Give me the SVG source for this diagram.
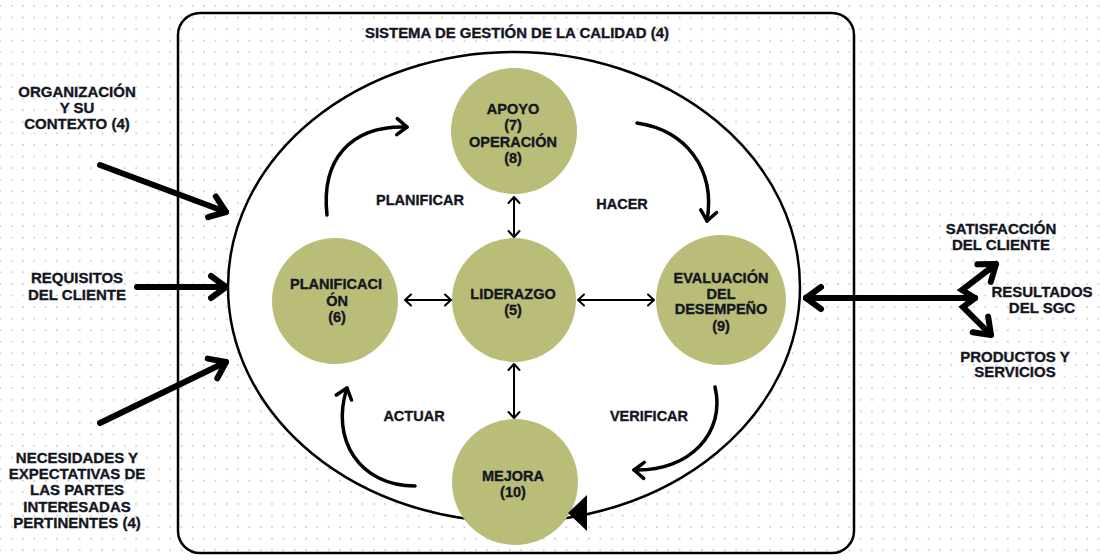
<svg xmlns="http://www.w3.org/2000/svg" width="1101" height="560" viewBox="0 0 1101 560">
<defs>
<pattern id="dots" patternUnits="userSpaceOnUse" x="6" y="0.2" width="11.32" height="11.58">
<circle cx="5.66" cy="5.79" r="0.9" fill="#c4c4c4"/>
</pattern>
<marker id="headThick" markerUnits="userSpaceOnUse" viewBox="-20 -15 25 30" refX="0" refY="0" markerWidth="25" markerHeight="30" orient="auto">
<path d="M-15,-11 L0,0 L-15,11" fill="none" stroke="#000" stroke-width="6" stroke-linecap="round" stroke-linejoin="round"/>
</marker>
<marker id="headMid" markerUnits="userSpaceOnUse" viewBox="-15 -12 20 24" refX="0" refY="0" markerWidth="20" markerHeight="24" orient="auto">
<path d="M-10,-8 L0,0 L-10,8" fill="none" stroke="#000" stroke-width="3.5" stroke-linecap="round" stroke-linejoin="round"/>
</marker>
<marker id="headThin" markerUnits="userSpaceOnUse" viewBox="-10 -8 13 16" refX="0" refY="0" markerWidth="13" markerHeight="16" orient="auto-start-reverse">
<path d="M-6,-5.5 L0,0 L-6,5.5" fill="none" stroke="#000" stroke-width="2" stroke-linecap="round" stroke-linejoin="round"/>
</marker>
</defs>
<style>
.t{font-family:"Liberation Sans",Arial,sans-serif;font-weight:bold;fill:#14161f;stroke:#14161f;stroke-width:0.35px;text-anchor:middle}
.s{font-size:15px}
.c{font-size:14.5px}
.node{fill:#b9bd78}
.thick{fill:none;stroke:#000;stroke-width:6;stroke-linecap:round}
.mid{fill:none;stroke:#000;stroke-width:3.5;stroke-linecap:round}
.thin{fill:none;stroke:#000;stroke-width:2}
</style>
<rect width="1101" height="560" fill="#fff"/>
<rect width="1101" height="560" fill="url(#dots)"/>

<g id="sgc-frame">
<rect x="178" y="13" width="676" height="540" rx="22" fill="none" stroke="#000" stroke-width="2.5"/>
<text class="t" x="517" y="38" font-size="14" textLength="304" lengthAdjust="spacingAndGlyphs">SISTEMA DE GESTIÓN DE LA CALIDAD (4)</text>
</g>

<g id="cycle-ellipse">
<ellipse cx="514" cy="287" rx="286" ry="235" fill="#fff" stroke="#000" stroke-width="2.5"/>
</g>

<g id="connectors">
<line class="thick" x1="100" y1="165" x2="226" y2="212" marker-end="url(#headThick)"/>
<line class="thick" x1="137" y1="287" x2="226" y2="287" marker-end="url(#headThick)"/>
<line class="thick" x1="100" y1="423" x2="226" y2="362" marker-end="url(#headThick)"/>
<line class="thick" x1="975" y1="298" x2="806" y2="298" marker-end="url(#headThick)"/>
<path class="thick" d="M975,298 L962,290 L996,264" marker-end="url(#headThick)"/>
<path class="thick" d="M975,298 L963,307 L991,335" marker-end="url(#headThick)"/>
<path class="mid" d="M327,215 C321,160 350,125 407,127" marker-end="url(#headMid)"/>
<path class="mid" d="M637,123 C685,130 716,168 707,221" marker-end="url(#headMid)"/>
<path class="mid" d="M715,387 C726,432 690,472 634,470" marker-end="url(#headMid)"/>
<path class="mid" d="M415,486 C360,486 330,440 347,388" marker-end="url(#headMid)"/>
<line class="thin" x1="514" y1="197" x2="514" y2="237" marker-start="url(#headThin)" marker-end="url(#headThin)"/>
<line class="thin" x1="514" y1="364" x2="514" y2="418" marker-start="url(#headThin)" marker-end="url(#headThin)"/>
<line class="thin" x1="405" y1="300" x2="451" y2="300" marker-start="url(#headThin)" marker-end="url(#headThin)"/>
<line class="thin" x1="578" y1="300" x2="654" y2="300" marker-start="url(#headThin)" marker-end="url(#headThin)"/>
</g>

<g id="apoyo-operacion">
<circle class="node" cx="514" cy="131" r="63"/>
<text class="t c" x="513" y="114">APOYO</text>
<text class="t c" x="513" y="130">(7)</text>
<text class="t c" x="513" y="147">OPERACIÓN</text>
<text class="t c" x="513" y="163">(8)</text>
</g>

<g id="planificacion">
<circle class="node" cx="335" cy="301" r="63"/>
<text class="t c" x="336" y="289">PLANIFICACI</text>
<text class="t c" x="337" y="306">ÓN</text>
<text class="t c" x="337" y="322">(6)</text>
</g>

<g id="liderazgo">
<circle class="node" cx="514" cy="300" r="62"/>
<text class="t c" x="513" y="299">LIDERAZGO</text>
<text class="t c" x="513" y="315">(5)</text>
</g>

<g id="evaluacion">
<circle class="node" cx="721" cy="300" r="65"/>
<text class="t c" x="721" y="283">EVALUACIÓN</text>
<text class="t c" x="721" y="299">DEL</text>
<text class="t c" x="721" y="314">DESEMPEÑO</text>
<text class="t c" x="721" y="331">(9)</text>
</g>

<g id="mejora">
<circle class="node" cx="515" cy="482" r="63"/>
<text class="t c" x="513" y="481">MEJORA</text>
<text class="t c" x="513" y="497">(10)</text>
<polygon points="568,513 587,495 587,531" fill="#000"/>
</g>

<g id="phase-labels">
<text class="t c" x="420" y="205">PLANIFICAR</text>
<text class="t c" x="622" y="209">HACER</text>
<text class="t c" x="414" y="421">ACTUAR</text>
<text class="t c" x="649" y="421">VERIFICAR</text>
</g>

<g id="org-contexto">
<text class="t s" x="77" y="97">ORGANIZACIÓN</text>
<text class="t s" x="77" y="113">Y SU</text>
<text class="t s" x="77" y="129">CONTEXTO (4)</text>
</g>

<g id="requisitos">
<text class="t s" x="77" y="283">REQUISITOS</text>
<text class="t s" x="77" y="300">DEL CLIENTE</text>
</g>

<g id="necesidades">
<text class="t s" x="77" y="463">NECESIDADES Y</text>
<text class="t s" x="77" y="479">EXPECTATIVAS DE</text>
<text class="t s" x="77" y="495">LAS PARTES</text>
<text class="t s" x="77" y="512">INTERESADAS</text>
<text class="t s" x="77" y="528">PERTINENTES (4)</text>
</g>

<g id="satisfaccion">
<text class="t s" x="1001" y="234">SATISFACCIÓN</text>
<text class="t s" x="1001" y="250">DEL CLIENTE</text>
</g>

<g id="resultados">
<text class="t s" x="1042" y="297">RESULTADOS</text>
<text class="t s" x="1042" y="313">DEL SGC</text>
</g>

<g id="productos">
<text class="t s" x="1015" y="362">PRODUCTOS Y</text>
<text class="t s" x="1015" y="377">SERVICIOS</text>
</g>
</svg>
